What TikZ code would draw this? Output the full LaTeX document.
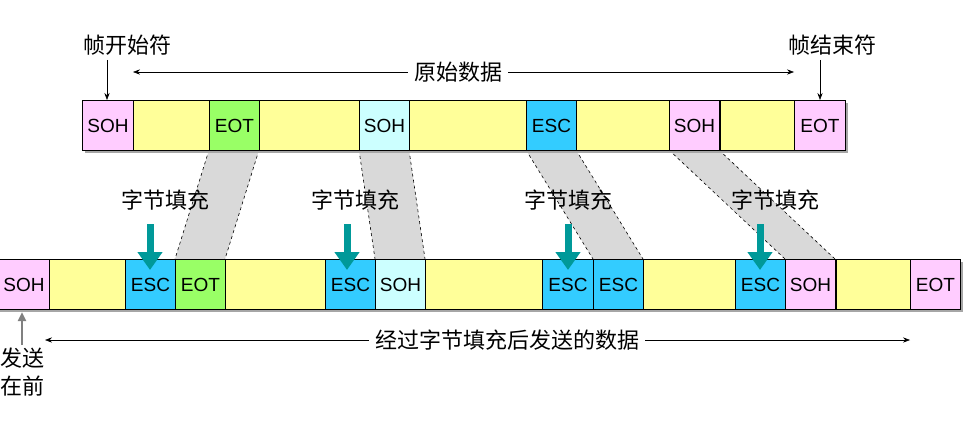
\documentclass[tikz,border=0pt]{standalone}
\usepackage{fontspec}
\setmainfont{Liberation Sans}
\newfontfamily\cjk{Noto Sans CJK SC}
\usetikzlibrary{arrows.meta}
\definecolor{cy}{HTML}{FFFF99}
\definecolor{cp}{HTML}{FFCCFF}
\definecolor{cg}{HTML}{99FF66}
\definecolor{cc}{HTML}{CCFFFF}
\definecolor{cb}{HTML}{33CCFF}
\definecolor{teal2}{HTML}{009999}
\tikzset{
 cell/.style={draw=black,line width=1pt,inner sep=0pt,anchor=north west,font=\fontsize{19}{19}\selectfont},
 shd/.style={fill=gray!70},
 lbl/.style={font=\cjk\fontsize{22}{24}\selectfont},
 band/.style={fill=gray!30,draw=black,dashed,line width=0.6pt},
 tarr/.style={-{Triangle[width=24pt,length=18pt]},line width=7pt,draw=teal2},
}
\begin{document}
\begin{tikzpicture}[x=1pt,y=-1pt]
\useasboundingbox (0,0) rectangle (968,444);
% bands
\path[band,draw=none] (209,150)--(259,150)--(225,259)--(175,259)--cycle;
\path[band,draw=none] (359,150)--(409,150)--(425,259)--(375,259)--cycle;
\path[band,draw=none] (526,150)--(576,150)--(643,259)--(593,259)--cycle;
\path[band,draw=none] (669,150)--(719,150)--(835,259)--(785,259)--cycle;
\foreach \a/\b in {209/175,259/225,359/375,409/425,526/593,576/643,669/785,719/835}
  \draw[dashed,line width=0.6pt] (\a,150)--(\b,259);
% shadows
\fill[gray!70] (85,103) rectangle (848,153);
\fill[gray!70] (0,262) rectangle (963,312);
% top row
\foreach \l/\r/\c/\t [count=\i] in {82/133/cp/SOH,133/209/cy/,209/259/cg/EOT,259/359/cy/,359/409/cc/SOH,409/526/cy/,526/576/cb/ESC,576/669/cy/,669/719/cp/SOH,720/794/cy/,794/845/cp/EOT}
  \node[cell,fill=\c,minimum width={(\r-\l)*1pt},minimum height=50pt] (t\i) at (\l,100) {\t};
% bottom row
\foreach \l/\r/\c/\t [count=\i] in {-2/49/cp/SOH,49/125/cy/,125/175/cb/ESC,175/225/cg/EOT,225/325/cy/,325/375/cb/ESC,375/425/cc/SOH,425/542/cy/,542/593/cb/ESC,593/643/cb/ESC,643/735/cy/,735/785/cb/ESC,785/835/cp/SOH,836/910/cy/,910/960/cp/EOT}
  \node[cell,fill=\c,minimum width={(\r-\l)*1pt},minimum height=50pt] (b\i) at (\l,259) {\t};
% stuffing labels and arrows
\foreach \x/\lx [count=\i] in {150/165,347/355,568/568,760/775}{
  \node[lbl] (s\i) at (\lx,200) {字节填充};
  \coordinate (sa\i) at (\x,224);
  \coordinate (se\i) at (\x,270);
  \draw[tarr] (sa\i)--(se\i);
}
% top labels
\node[lbl] (start) at (127,45) {帧开始符};
\node[lbl] (end) at (832,45) {帧结束符};
\coordinate (ps) at (107,60); \coordinate (pe) at (820,60);
\draw[-{Stealth[length=7pt]},line width=0.6pt] (ps)--(t1.north west -| ps);
\draw[-{Stealth[length=7pt]},line width=0.6pt] (pe)--(t11.north -| pe);
\node[lbl,fill=white,inner sep=6pt] (raw) at (458,72) {原始数据};
\coordinate (r1) at (133,72); \coordinate (r2) at (794,72);
\draw[-{Stealth[length=7pt]},line width=0.6pt] (raw.west)--(r1);
\draw[-{Stealth[length=7pt]},line width=0.6pt] (raw.east)--(r2);
% bottom labels
\node[lbl,fill=white,inner sep=6pt] (sent) at (507,340) {经过字节填充后发送的数据};
\coordinate (q1) at (45,340); \coordinate (q2) at (910,340);
\draw[-{Stealth[length=7pt]},line width=0.6pt] (sent.west)--(q1);
\draw[-{Stealth[length=7pt]},line width=0.6pt] (sent.east)--(q2);
\node[lbl,align=left,anchor=north west,inner sep=0pt] (first) at (0,348) {发送\\[4pt]在前};
\coordinate (fa) at (22,345); \coordinate (fb) at (22,312);
\draw[-{Triangle[width=8pt,length=9pt]},line width=2.5pt,draw=gray] (fa)--(fb);
\end{tikzpicture}
\end{document}
